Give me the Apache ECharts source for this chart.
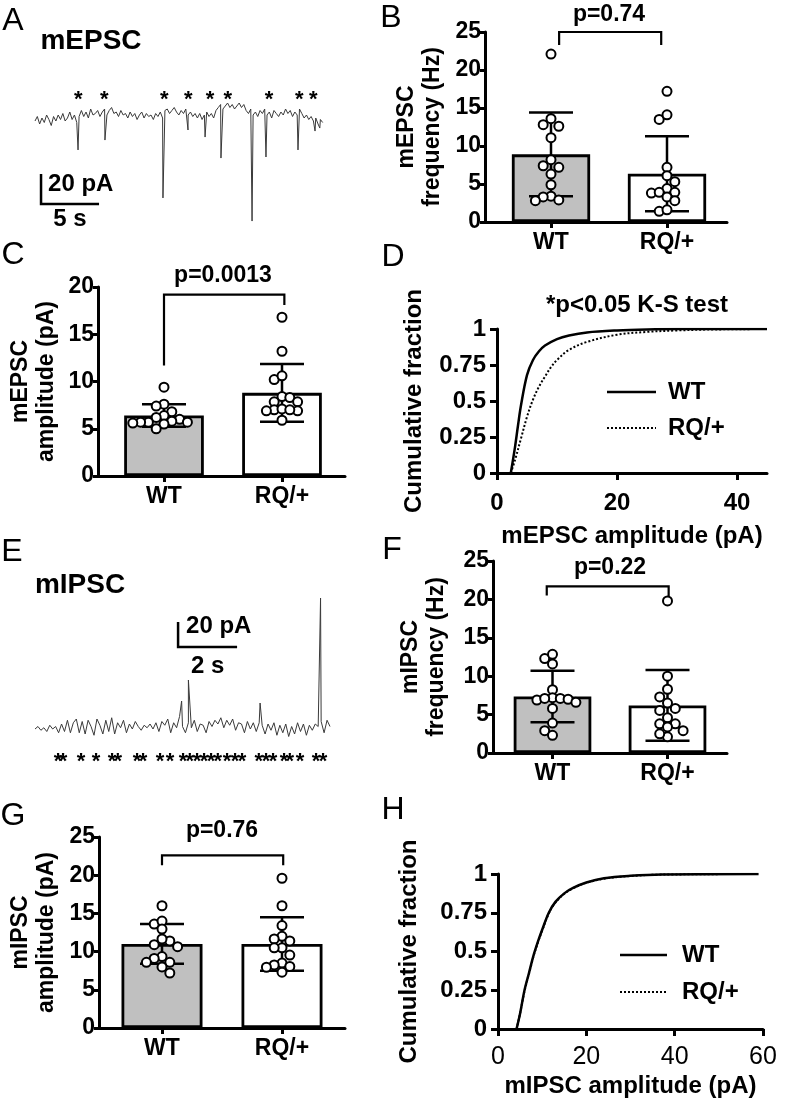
<!DOCTYPE html>
<html>
<head>
<meta charset="utf-8">
<script src="https://cdn.jsdelivr.net/npm/echarts@6.0.0/dist/echarts.min.js"></script>
<style>
  html, body { margin: 0; padding: 0; background: #fff; }
  #fig { width: 796px; height: 1104px; }
</style>
</head>
<body>
<div id="fig"></div>
<script>
const FONT = '"Liberation Sans", Arial, Helvetica, sans-serif';
const INK = '#000';

// ---- values ----
const groups = ['WT', 'RQ/+'];

// B: mEPSC frequency (Hz)
const mepscFreqWT = [22.1, 13.6, 12.6, 12.8, 11.1, 8.2, 7.2, 7.4, 6.3, 4.9, 3.4, 3.3, 2.8, 2.9];
const mepscFreqRQ = [17.2, 13.5, 14.1, 7.2, 6.1, 5.3, 4.4, 3.8, 3.9, 3.9, 3.3, 2.8, 1.4, 1.6];
const mepscFreqMean = [8.9, 6.35];
const mepscFreqSD = [5.5, 4.93];

// C: mEPSC amplitude (pA)
const mepscAmpWT = [9.4, 7.6, 7.4, 6.8, 6.4, 6.2, 6.0, 5.8, 5.7, 5.7, 5.7, 5.6, 5.5, 5.0];
const mepscAmpRQ = [16.8, 13.2, 10.2, 10.6, 8.4, 8.3, 7.85, 7.85, 7.0, 6.9, 7.1, 6.9, 7.0, 5.9];
const mepscAmpMean = [6.4, 8.8];
const mepscAmpSD = [1.2, 3.05];

// F: mIPSC frequency (Hz)
const mipscFreqWT = [12.3, 11.6, 12.85, 8.25, 7.2, 7.1, 7.0, 6.9, 7.1, 6.6, 5.8, 3.9, 2.9, 2.3];
const mipscFreqRQ = [19.8, 10.0, 8.3, 7.3, 6.5, 5.55, 5.8, 4.6, 3.8, 3.8, 2.9, 3.4, 2.1, 2.5];
const mipscFreqMean = [7.35, 6.2];
const mipscFreqSD = [3.35, 4.6];

// G: mIPSC amplitude (pA)
const mipscAmpWT = [16.0, 13.6, 14.0, 12.95, 11.4, 11.65, 10.65, 10.9, 9.35, 9.1, 8.6, 8.6, 8.0, 7.2];
const mipscAmpRQ = [19.6, 16.0, 13.4, 12.0, 11.65, 11.4, 10.5, 10.5, 9.55, 8.5, 8.25, 8.05, 7.95, 7.3];
const mipscAmpMean = [11.0, 11.0];
const mipscAmpSD = [2.6, 3.5];

const pValues = ['p=0.74', 'p=0.0013', 'p=0.22', 'p=0.76'];

// D / H: cumulative fraction vs amplitude (pA)
const mepscCdfWT = [[2.3, 0], [3, 0.18], [3.5, 0.33], [4, 0.47], [5, 0.68], [6, 0.785], [7, 0.845], [8, 0.885], [10, 0.93], [12, 0.955], [15, 0.976], [20, 0.99], [25, 0.997], [30, 1], [45, 1]];
const mepscCdfRQ = [[2.3, 0], [3, 0.09], [4, 0.24], [5, 0.39], [6, 0.51], [7, 0.6], [8, 0.67], [9, 0.735], [10, 0.785], [12, 0.855], [15, 0.91], [20, 0.96], [25, 0.98], [30, 0.99], [35, 0.996], [45, 1]];
const mipscCdfWT = [[4.2, 0], [5, 0.1], [6, 0.25], [7, 0.36], [8, 0.47], [9, 0.56], [10, 0.64], [11.5, 0.75], [13, 0.82], [15, 0.875], [17, 0.91], [20, 0.945], [24, 0.972], [30, 0.988], [37, 0.997], [59, 1]];
const mipscCdfRQ = [[4.2, 0], [5, 0.1], [6, 0.245], [7, 0.355], [8, 0.465], [9, 0.555], [10, 0.635], [11.5, 0.745], [13, 0.815], [15, 0.872], [17, 0.908], [20, 0.943], [24, 0.97], [30, 0.987], [37, 0.996], [59, 1]];
const mepscAmpTicks = [0, 20, 40];
const mipscAmpTicks = [0, 20, 40, 60];

// A: mEPSC trace, pA every 0.2 s, plus event minima [s, pA]
const mepscTrace = [
  -2, 1, -4, 0, -3, 2, -1, -5, 1, -2,
  2, -1, 3, -2, 0, 4, -1, 2, -3, 1,
  5, 1, 4, 0, 6, 2, 3, 5, 1, 4,
  6, 2, 5, 7, 3, 4, 1, 5, 2, 3,
  0, 4, 1, 3, -1, 2, 4, 0, 3, 1,
  2, -1, 3, 1, 4, 0, 5, 6, 3, 5,
  7, 4, 2, 5, 3, 6, 2, 4, 1, 3,
  0, 3, -1, 2, 4, 1, 3, 0, 5, 7,
  9, 6, 8, 10, 7, 9, 6, 8, 10, 7,
  9, 5, 3, 6, 2, 4, 1, 5, 3, 6,
  2, 4, 0, 5, 3, 1, 4, 2, 6, 3,
  5, 1, 4, 2, 6, 3, 0, 2, -1, 1,
  -2, 0, -4, -1, -3
];
const mepscEvents = [[3.71, -21.3], [6.03, -14.7], [11.03, -53.3], [13.19, -8], [14.66, -12.7], [16.03, -26.7], [18.71, -68.7], [19.91, -26], [22.67, -21.3], [24.14, -8.7], [24.55, -6.7]];
const mepscStars = [3.73, 5.97, 11.15, 13.22, 15.09, 16.61, 20.17, 22.78, 23.99];

// E: mIPSC trace, pA every 0.1 s, plus event peaks [s, pA]
const mipscTrace = [
  0, 2, -1, 1, -2, 3, 0, 2, -3, 4,
  -2, 7, -3, 5, 8, -3, 6, -4, 7, 2,
  -5, 8, 3, -4, 7, -2, 9, -4, 5, 1,
  7, -3, 4, 0, 6, 2, -1, 3, 1, 4,
  0, 5, -2, 6, 3, 8, -3, 5, 1, 10,
  2, -3, 5, 1, 7, -2, 4, 3, -3, 6,
  2, 7, 4, 9, 1, 7, 3, 8, -1, 5,
  4, -3, 6, 0, 5, -2, 5, 3, -4, 4,
  -1, 5, -5, 3, -3, 4, -6, 2, -4, 5,
  -2, 4, -5, 3, -1, 4, 2, 6, -3, 7,
  2
];
const mipscEvents = [[4.97, 22.4], [5.2, 39.2], [7.63, 20.8], [9.68, 104.8]];
const mipscStars = [0.78, 0.95, 1.56, 2.07, 2.61, 2.81, 3.46, 3.66, 4.24, 4.58, 5.02, 5.25, 5.49, 5.73, 5.97, 6.2, 6.51, 6.78, 7.02, 7.59, 7.83, 8.07, 8.44, 8.64, 8.98, 9.53, 9.76];

// ---- helpers ----
const bold = size => ({ color: INK, fontFamily: FONT, fontWeight: 'bold', fontSize: size });
const plain = size => ({ color: INK, fontFamily: FONT, fontWeight: 'normal', fontSize: size });
const axisInk = { color: INK, width: 3 };
const wtLine = { color: INK, width: 2.5 };
const rqLine = { color: INK, width: 2, type: [2, 2] };

function textEl(text, x, y, font, align) {
  return {
    type: 'text', x: x, y: y, silent: true,
    style: { text: text, font: font, fill: INK, align: align || 'center', verticalAlign: 'middle',
             textAlign: align || 'center', textVerticalAlign: 'middle' }
  };
}

const grids = [], xAxes = [], yAxes = [], series = [];
function addGrid(g, x, y) {
  grids.push(Object.assign({ containLabel: false, outerBoundsMode: 'none' }, g));
  const gi = grids.length - 1;
  xAxes.push(Object.assign({ gridIndex: gi }, x));
  yAxes.push(Object.assign({ gridIndex: gi }, y));
  return gi;
}

// prism-like column layout of the dots: sorted from top, first free column nearest the centre
function swarm(values, pxPerUnit, step) {
  const order = values.map((v, i) => i).sort((a, b) => values[b] - values[a]);
  const placed = [];
  const cols = [];
  order.forEach(i => {
    const y = values[i] * pxPerUnit;
    for (let r = 0; r < 8; r++) {
      let cands = r === 0 ? [0] : [-r, r];
      if (r > 0) {
        const left = placed.filter(p => p.k < 0).length, right = placed.filter(p => p.k > 0).length;
        if (right < left) cands = [r, -r];
      }
      for (const k of cands) {
        if (placed.every(p => Math.hypot((p.k - k) * step, p.y - y) >= step - 0.01)) {
          cols[i] = k; placed.push({ k: k, y: y });
          return;
        }
      }
    }
  });
  return cols;
}

function traceData(samples, dt, events) {
  return samples.map((v, i) => [+(i * dt).toFixed(2), v]).concat(events).sort((a, b) => a[0] - b[0]);
}

// ---- trace panels ----
function tracePanel(cfg) {
  const b = cfg.box;
  const gi = addGrid(
    { left: b.left, top: b.top, width: b.width, height: b.height },
    { type: 'value', min: 0, max: cfg.tMax, show: false },
    { type: 'value', min: cfg.yMin, max: cfg.yMax, show: false }
  );
  series.push({
    type: 'line', xAxisIndex: gi, yAxisIndex: gi, silent: true, symbol: 'none',
    data: traceData(cfg.samples, cfg.dt, cfg.events),
    lineStyle: { color: '#3a3a3a', width: 1 }
  });
  series.push({
    type: 'custom', xAxisIndex: gi, yAxisIndex: gi, silent: true, clip: false,
    data: cfg.stars.map(t => [t, cfg.starLevel]),
    renderItem: (p, api) => {
      const c = api.coord([api.value(0), api.value(1)]);
      return textEl('*', c[0], c[1], 'bold 22px ' + FONT);
    }
  });
  const sb = cfg.scale;
  series.push({
    type: 'custom', xAxisIndex: gi, yAxisIndex: gi, silent: true, clip: false,
    data: [[sb.t0, sb.v0]],
    renderItem: (p, api) => {
      const o = api.coord([sb.t0, sb.v0]);
      const top = api.coord([sb.t0, sb.v0 + sb.pA]);
      const end = api.coord([sb.t0 + sb.sec, sb.v0]);
      return {
        type: 'group', children: [
          { type: 'polyline', shape: { points: [top, o, end] }, style: { stroke: INK, lineWidth: 2.5, fill: null } },
          textEl(sb.pA + ' pA', top[0] + sb.ampDx, top[1] + sb.ampDy, 'bold 24px ' + FONT, 'left'),
          textEl(sb.sec + ' s', (o[0] + end[0]) / 2, o[1] + sb.secDy, 'bold 24px ' + FONT)
        ]
      };
    }
  });
}

// ---- bar + dot panels ----
const STEP = 7.8;
function barPanel(cfg) {
  const b = cfg.box;
  const gi = addGrid(
    { left: b.axis, top: b.top, width: b.end - b.axis, height: b.bottom - b.top },
    {
      type: 'value', min: (b.axis - b.c0) / b.unit, max: (b.end - b.c0) / b.unit,
      axisLine: { show: true, onZero: false, lineStyle: axisInk },
      axisTick: { show: true, customValues: [0, 1], length: 6, lineStyle: axisInk },
      axisLabel: Object.assign({ show: true, customValues: [0, 1], margin: 9, formatter: v => groups[Math.round(v)] }, bold(23)),
      splitLine: { show: false }
    },
    {
      type: 'value', min: 0, max: cfg.yMax, interval: 5,
      name: cfg.name, nameLocation: 'middle', nameGap: cfg.nameGap,
      nameTextStyle: Object.assign({ lineHeight: 26 }, bold(23)),
      axisLine: { show: true, onZero: false, lineStyle: axisInk },
      axisTick: { show: true, length: 5, lineStyle: axisInk },
      axisLabel: Object.assign({ margin: 4 }, bold(23)),
      splitLine: { show: false }
    }
  );
  const pxY = (b.bottom - b.top) / cfg.yMax;
  series.push({
    type: 'bar', xAxisIndex: gi, yAxisIndex: gi, silent: true, z: 2,
    barWidth: 0.675 * b.unit,
    data: cfg.mean.map((m, g) => ({ value: [g, m], itemStyle: { color: g ? '#ffffff' : '#c0c0c0' } })),
    itemStyle: { borderColor: INK, borderWidth: 2.8 }
  });
  series.push({
    type: 'custom', xAxisIndex: gi, yAxisIndex: gi, silent: true, z: 3, clip: false,
    data: cfg.mean.map((m, g) => [g, m, cfg.sd[g]]),
    renderItem: (p, api) => {
      const x = api.value(0), m = api.value(1), s = api.value(2);
      const hi = api.coord([x, m + s]), lo = api.coord([x, m - s]);
      const hw = 22, st = { stroke: INK, lineWidth: 2.5 };
      return {
        type: 'group', children: [
          { type: 'line', shape: { x1: hi[0], y1: hi[1], x2: lo[0], y2: lo[1] }, style: st },
          { type: 'line', shape: { x1: hi[0] - hw, y1: hi[1], x2: hi[0] + hw, y2: hi[1] }, style: st },
          { type: 'line', shape: { x1: lo[0] - hw, y1: lo[1], x2: lo[0] + hw, y2: lo[1] }, style: st }
        ]
      };
    }
  });
  [cfg.wt, cfg.rq].forEach((vals, g) => {
    const cols = swarm(vals, pxY, STEP);
    series.push({
      type: 'scatter', xAxisIndex: gi, yAxisIndex: gi, silent: true, z: 4,
      data: vals.map((v, i) => [g + cols[i] * STEP / b.unit, v]),
      symbol: 'circle', symbolSize: 9,
      itemStyle: { color: '#ffffff', borderColor: INK, borderWidth: 2, opacity: 1 }
    });
  });
  const k = cfg.bracket;
  series.push({
    type: 'custom', xAxisIndex: gi, yAxisIndex: gi, silent: true, z: 5, clip: false,
    data: [[0.5, k.top]],
    renderItem: (p, api) => {
      const bl = api.coord([k.x0, k.left]), tl = api.coord([k.x0, k.top]);
      const tr = api.coord([k.x1, k.top]), br = api.coord([k.x1, k.right]);
      const mid = api.coord([0.5, k.top]);
      return {
        type: 'group', children: [
          { type: 'polyline', shape: { points: [bl, tl, tr, br] }, style: { stroke: INK, lineWidth: 2.2, fill: null } },
          textEl(cfg.p, mid[0], mid[1] - k.gap, 'bold 23px ' + FONT)
        ]
      };
    }
  });
}

// ---- cumulative panels ----
function cdfPanel(cfg) {
  const b = cfg.box;
  const gi = addGrid(
    { left: b.left, top: b.top, width: b.right - b.left, height: b.bottom - b.top },
    {
      type: 'value', min: 0, max: cfg.xMax,
      name: cfg.xName, nameLocation: 'middle', nameGap: cfg.xNameGap, nameTextStyle: bold(24),
      axisLine: { show: true, onZero: false, lineStyle: axisInk },
      axisTick: { show: true, customValues: cfg.ticks, length: 7, lineStyle: axisInk },
      axisLabel: Object.assign({ customValues: cfg.ticks, margin: cfg.labelMargin }, cfg.xBold ? bold(24) : plain(25)),
      splitLine: { show: false }
    },
    {
      type: 'value', min: 0, max: 1, interval: 0.25,
      name: 'Cumulative fraction', nameLocation: 'middle', nameGap: cfg.yNameGap, nameTextStyle: bold(24),
      axisLine: { show: true, onZero: false, lineStyle: axisInk },
      axisTick: { show: true, length: 7, lineStyle: axisInk },
      axisLabel: Object.assign({ margin: 11 }, bold(24)),
      splitLine: { show: false }
    }
  );
  series.push({
    name: 'WT', type: 'line', xAxisIndex: gi, yAxisIndex: gi, silent: true, z: 3,
    data: cfg.wt, symbol: 'none', smooth: 0.35, lineStyle: wtLine
  });
  series.push({
    name: 'RQ/+', type: 'line', xAxisIndex: gi, yAxisIndex: gi, silent: true, z: 2,
    data: cfg.rq, symbol: 'none', smooth: 0.35, lineStyle: rqLine
  });
  // key: short line sample + group name, placed in pixels
  const lg = cfg.key;
  series.push({
    type: 'custom', xAxisIndex: gi, yAxisIndex: gi, silent: true, clip: false, z: 6,
    data: [[0, 0]],
    renderItem: () => ({
      type: 'group',
      children: groups.map((name, i) => {
        const y = lg.y + i * lg.dy;
        const ls = i ? rqLine : wtLine;
        return {
          type: 'group', children: [
            { type: 'line', shape: { x1: lg.x0, y1: y, x2: lg.x1, y2: y },
              style: { stroke: INK, lineWidth: ls.width, lineDash: Array.isArray(ls.type) ? ls.type : null } },
            textEl(name, lg.tx, y, 'bold 24px ' + FONT, 'left')
          ]
        };
      })
    })
  });
}

tracePanel({
  box: { left: 35, top: 88, width: 287.7, height: 150 }, tMax: 24.8, yMin: -80, yMax: 20,
  samples: mepscTrace, dt: 0.2, events: mepscEvents, stars: mepscStars, starLevel: 12,
  scale: { t0: 0.52, v0: -57.3, pA: 20, sec: 5, ampDx: 7, ampDy: 10, secDy: 15 }
});
barPanel({
  wt: mepscFreqWT, rq: mepscFreqRQ, mean: mepscFreqMean, sd: mepscFreqSD, yMax: 25,
  name: 'mEPSC\nfrequency (Hz)', nameGap: 39, p: pValues[0],
  bracket: { x0: 0.07, x1: 0.95, top: 25, left: 23.3, right: 23.3, gap: 17 },
  box: { axis: 485, end: 727, c0: 551, unit: 116, top: 32, bottom: 222 }
});
barPanel({
  wt: mepscAmpWT, rq: mepscAmpRQ, mean: mepscAmpMean, sd: mepscAmpSD, yMax: 20,
  name: 'mEPSC\namplitude (pA)', nameGap: 38, p: pValues[1],
  bracket: { x0: 0, x1: 1.02, top: 19.2, left: 11.7, right: 18.1, gap: 19 },
  box: { axis: 98, end: 345, c0: 164, unit: 118, top: 287, bottom: 476 }
});
cdfPanel({
  wt: mepscCdfWT, rq: mepscCdfRQ, xMax: 45, ticks: mepscAmpTicks, xBold: true, labelMargin: 18,
  xName: 'mEPSC amplitude (pA)', xNameGap: 51, yNameGap: 71,
  key: { x0: 607, x1: 656, tx: 668, y: 392, dy: 36 },
  box: { left: 497, right: 767, top: 329, bottom: 473 }
});
tracePanel({
  box: { left: 35, top: 591.5, width: 295, height: 175 }, tMax: 10, yMin: -30, yMax: 110,
  samples: mipscTrace, dt: 0.1, events: mipscEvents, stars: mipscStars, starLevel: -26,
  scale: { t0: 4.85, v0: 65.6, pA: 20, sec: 2, ampDx: 8, ampDy: 4, secDy: 19 }
});
barPanel({
  wt: mipscFreqWT, rq: mipscFreqRQ, mean: mipscFreqMean, sd: mipscFreqSD, yMax: 25,
  name: 'mIPSC\nfrequency (Hz)', nameGap: 43, p: pValues[2],
  bracket: { x0: -0.05, x1: 1.01, top: 21.7, left: 20.5, right: 20.3, gap: 19 },
  box: { axis: 493, end: 727, c0: 552.5, unit: 115, top: 561, bottom: 753 }
});
barPanel({
  wt: mipscAmpWT, rq: mipscAmpRQ, mean: mipscAmpMean, sd: mipscAmpSD, yMax: 25,
  name: 'mIPSC\namplitude (pA)', nameGap: 39, p: pValues[3],
  bracket: { x0: 0, x1: 1.01, top: 22.6, left: 21.3, right: 21.3, gap: 25 },
  box: { axis: 99, end: 345, c0: 162, unit: 120, top: 837, bottom: 1028 }
});
cdfPanel({
  wt: mipscCdfWT, rq: mipscCdfRQ, xMax: 60, ticks: mipscAmpTicks, xBold: false, labelMargin: 16,
  xName: 'mIPSC amplitude (pA)', xNameGap: 45, yNameGap: 77,
  key: { x0: 620, x1: 667, tx: 682, y: 955, dy: 37 },
  box: { left: 498, right: 763, top: 874, bottom: 1029 }
});

const chart = echarts.init(document.getElementById('fig'));
chart.setOption({
  animation: false,
  backgroundColor: '#ffffff',
  textStyle: { fontFamily: FONT },
  grid: grids,
  xAxis: xAxes,
  yAxis: yAxes,
  graphic: [
    textEl('A', 13, 21, '32px ' + FONT),
    textEl('B', 391, 18, '32px ' + FONT),
    textEl('C', 13, 255, '32px ' + FONT),
    textEl('D', 393, 257, '32px ' + FONT),
    textEl('E', 12, 552, '32px ' + FONT),
    textEl('F', 392, 550, '32px ' + FONT),
    textEl('G', 13, 816, '32px ' + FONT),
    textEl('H', 393, 810, '32px ' + FONT),
    textEl('mEPSC', 91, 41, 'bold 28px ' + FONT),
    textEl('mIPSC', 80, 585, 'bold 28px ' + FONT),
    textEl('*p<0.05 K-S test', 637, 305, 'bold 24px ' + FONT)
  ],
  series: series
});
</script>
</body>
</html>
